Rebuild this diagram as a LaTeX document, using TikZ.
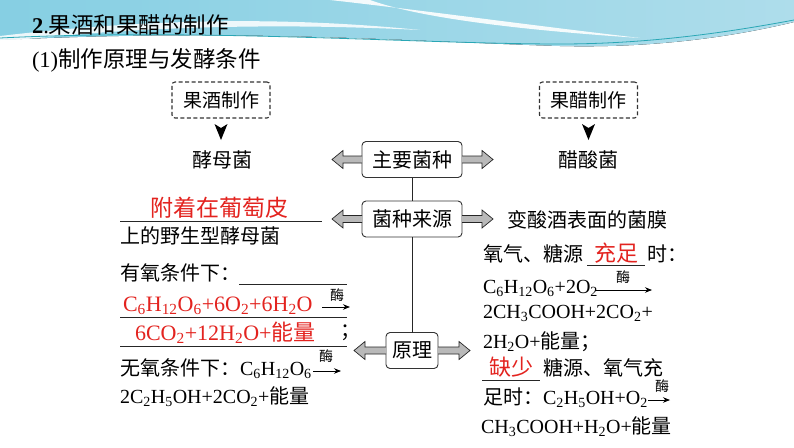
\documentclass[tikz,border=0pt]{standalone}
\usepackage{fontspec}
\setmainfont{Liberation Serif}
\newfontfamily\cjk{Noto Sans CJK SC}
\usetikzlibrary{arrows.meta,calc}
\definecolor{redc}{HTML}{E3231F}
\definecolor{boxline}{HTML}{333333}
\definecolor{bandL}{HTML}{86CFE3}
\definecolor{bandR}{HTML}{AEDDEB}
\definecolor{tealc}{HTML}{2AA7B5}
\newcommand\fsz[1]{\fontsize{#1}{#1}\selectfont}
\newcommand\sbs[1]{\textsubscript{#1}}
\newcommand\barrow[3]{%
  \draw[barrowst] ($(#1)+(0,-3.5)$) -- ++(#2,0) -- ++(0,-5.5) -- ++(#3,9) -- ++({0-(#3)},9) -- ++(0,-5.5) -- ++({0-(#2)},0);}
\begin{document}
\begin{tikzpicture}[x=1pt,y=-1pt,
  every node/.style={inner sep=0pt, outer sep=0pt},
  txt/.style={anchor=west, font=\fsz{20}},
  cjktxt/.style={anchor=west, font=\cjk\fsz{20}},
  redtxt/.style={anchor=west, text=redc, font=\fsz{22}},
  redcjk/.style={anchor=center, text=redc, font=\cjk\fsz{22}},
  dbox/.style={draw=boxline, dash pattern=on 4pt off 2.5pt, line width=1.1pt, rounded corners=3pt, minimum width=98pt, minimum height=36pt, font=\cjk\fsz{19}},
  sbox/.style={draw=boxline, fill=white, line width=0.9pt, rounded corners=4pt, minimum height=36pt, font=\cjk\fsz{20}},
  uline/.style={line width=0.9pt, draw=black!85},
  enz/.style={-{Stealth[length=7pt,width=5.5pt]}, line width=0.8pt},
  enzlab/.style={font=\cjk\fsz{14}},
  barrowst/.style={draw=black!85, fill=gray!55, line width=0.7pt, line join=miter},
  vline/.style={line width=0.8pt, draw=black!85},
]
\useasboundingbox (0,0) rectangle (794,447);
\fill[white] (0,0) rectangle (794,447);
% top decorative band
\fill[left color=bandL, right color=bandR] (0,0) -- (794,0) -- (794,22) .. controls (720,40) and (640,48) .. (560,46) .. controls (420,42) and (250,28) .. (0,40) -- cycle;
\fill[white, opacity=0.85] (0,36) .. controls (120,22) and (260,14) .. (420,30) .. controls (260,22) and (120,28) .. (0,42) -- cycle;
\fill[white, opacity=0.9] (330,0) .. controls (420,10) and (520,24) .. (640,38) .. controls (520,30) and (420,18) .. (370,0) -- cycle;
\draw[tealc, line width=0.8pt] (0,38) .. controls (200,28) and (420,44) .. (560,44) .. controls (650,44) and (730,32) .. (794,20);

% title
\node[anchor=west, font=\fsz{22.5}] (t1) at (32,25) {\textbf{2}.{\cjk 果酒和果醋的制作}};
\node[anchor=west, font=\fsz{22.5}] (t2) at (32,60) {(1){\cjk 制作原理与发酵条件}};

% dashed headers
\node[dbox] (jbox) at (221,100) {果酒制作};
\node[dbox] (cbox) at (588.5,100) {果醋制作};
\fill ($(jbox.south)+(-6.5,6)$) -- ++(6.5,16) -- ++(6.5,-16) -- ++(-6.5,4) -- cycle;
\fill ($(cbox.south)+(-6.5,6)$) -- ++(6.5,16) -- ++(6.5,-16) -- ++(-6.5,4) -- cycle;
\node[font=\cjk\fsz{20}] (jiaomu) at (222,160) {酵母菌};
\node[font=\cjk\fsz{20}] (cusuan) at (588,160) {醋酸菌};

% central boxes
\node[sbox, minimum width=100pt] (zhuyao) at (412,159.5) {主要菌种};
\node[sbox, minimum width=100pt] (laiyuan) at (412,219) {菌种来源};
\node[sbox, minimum width=52pt] (yuanli) at (412,350.5) {原理};
\draw[vline] (zhuyao.south) -- (laiyuan.north);
\draw[vline] (laiyuan.south) -- (yuanli.north);
\barrow{zhuyao.west}{-19}{-11}
\barrow{zhuyao.east}{20}{11}
\barrow{laiyuan.west}{-19}{-11}
\barrow{laiyuan.east}{20}{11}
\barrow{yuanli.west}{-21}{-11}
\barrow{yuanli.east}{21}{11}

% left column
\node[redcjk, font=\cjk\fsz{23}] (fuzhe) at (219,208) {附着在葡萄皮};
\draw[uline] (120,221) -- (322,221);
\node[cjktxt] (shangde) at (120,236) {上的野生型酵母菌};
\node[cjktxt] (youyang) at (120,273) {有氧条件下：};
\draw[uline] (239,284) -- (347,284);
\node[redtxt] (r1) at (123,306) {C\sbs{6}H\sbs{12}O\sbs{6}+6O\sbs{2}+6H\sbs{2}O};
\draw[uline] (120,317) -- (347,317);
\coordinate (e1a) at (322,307); \coordinate (e1b) at (350,307);
\draw[enz] (e1a) -- (e1b);
\node[enzlab] (m1) at (337,295) {酶};
\node[redtxt] (r2) at (135,333) {6CO\sbs{2}+12H\sbs{2}O+{\cjk 能量}};
\node[cjktxt] (semi1) at (340,333) {；};
\draw[uline] (120,346) -- (347,346);
\node[txt] (wuyang) at (120,369) {{\cjk 无氧条件下：}C\sbs{6}H\sbs{12}O\sbs{6}};
\coordinate (e2a) at (313,371); \coordinate (e2b) at (341,371);
\draw[enz] (e2a) -- (e2b);
\node[enzlab] (m2) at (326,356) {酶};
\node[txt] (wy2) at (120,397) {2C\sbs{2}H\sbs{5}OH+2CO\sbs{2}+{\cjk 能量}};

% right column
\node[cjktxt] (junmo) at (507,220) {变酸酒表面的菌膜};
\node[cjktxt] (yq) at (483,254) {氧气、糖源};
\draw[uline] (587,265) -- (645,265);
\node[redcjk] (chongzu) at (616,253) {充足};
\node[cjktxt] (shi) at (647,254) {时：};
\node[txt] (f1) at (483,288) {C\sbs{6}H\sbs{12}O\sbs{6}+2O\sbs{2}};
\coordinate (e3a) at (595,290); \coordinate (e3b) at (652,290);
\draw[enz] (e3a) -- (e3b);
\node[enzlab] (m3) at (623,277) {酶};
\node[txt] (f2) at (483,313) {2CH\sbs{3}COOH+2CO\sbs{2}+};
\node[txt] (f3) at (483,342) {2H\sbs{2}O+{\cjk 能量；}};
\node[redcjk] (queshao) at (511,367) {缺少};
\draw[uline] (482,380) -- (540,380);
\node[cjktxt] (ty) at (543,368) {糖源、氧气充};
\node[txt] (f4) at (483,398) {{\cjk 足时：}C\sbs{2}H\sbs{5}OH+O\sbs{2}};
\coordinate (e4a) at (648,400); \coordinate (e4b) at (670,400);
\draw[enz] (e4a) -- (e4b);
\node[enzlab] (m4) at (662,386) {酶};
\node[txt] (f5) at (481,427) {CH\sbs{3}COOH+H\sbs{2}O+{\cjk 能量}};
\end{tikzpicture}
\end{document}
